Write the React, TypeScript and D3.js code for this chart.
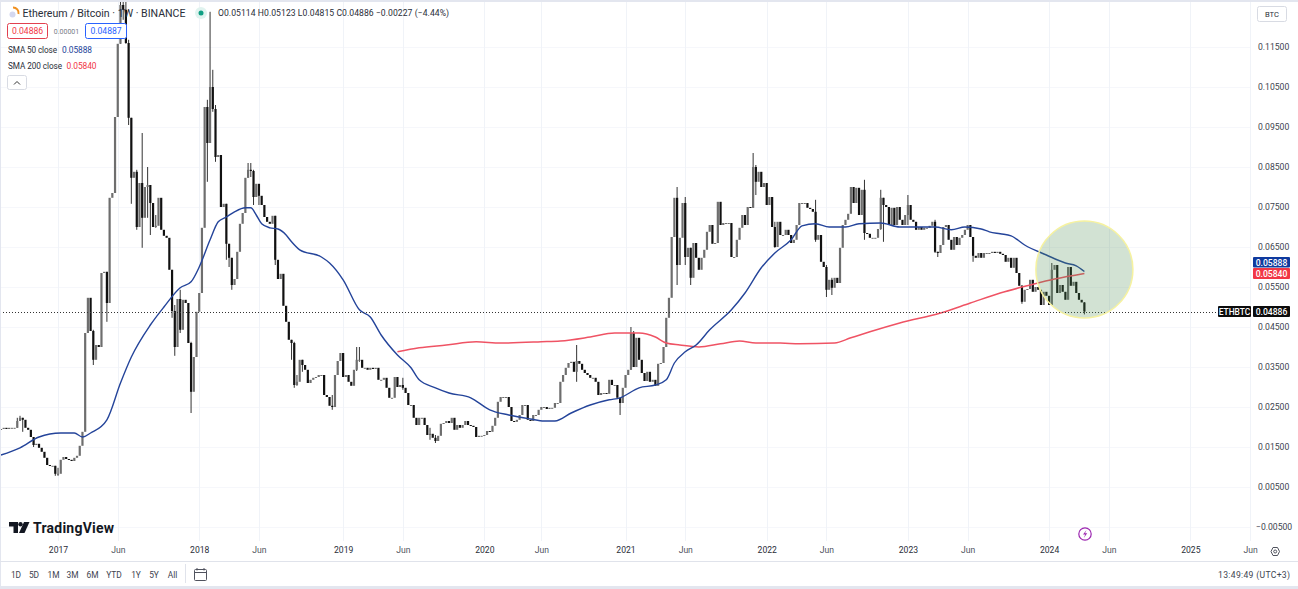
import React, { useEffect, useRef } from "react";
import * as d3 from "d3";

// weekly closes, first bar is Aug 2016
const closes = [
  0.0195, 0.0198, 0.0195, 0.0198, 0.0198, 0.0198, 0.0215, 0.0223, 0.0218, 0.0198,
  0.0193, 0.0175, 0.0155, 0.0158, 0.0148, 0.0138, 0.0123, 0.0105, 0.0103, 0.0103,
  0.0083, 0.0083, 0.0118, 0.0125, 0.012, 0.0118, 0.0115, 0.0123, 0.0128, 0.0153,
  0.0188, 0.0435, 0.0523, 0.044, 0.0368, 0.0405, 0.04, 0.0585, 0.0588, 0.051,
  0.0773, 0.0785, 0.0975, 0.1158, 0.1255, 0.1243, 0.116, 0.0973, 0.0823, 0.0838,
  0.07, 0.081, 0.0723, 0.08, 0.0805, 0.076, 0.07, 0.0703, 0.0773, 0.0693,
  0.0678, 0.0673, 0.0593, 0.049, 0.04, 0.052, 0.0443, 0.0518, 0.051, 0.041,
  0.0288, 0.0375, 0.0488, 0.0535, 0.0698, 0.1, 0.091, 0.105, 0.0995, 0.0875,
  0.088, 0.075, 0.0758, 0.0658, 0.0623, 0.0555, 0.057, 0.0638, 0.0708, 0.0735,
  0.0823, 0.0843, 0.084, 0.0775, 0.0808, 0.0778, 0.0755, 0.0725, 0.0713, 0.0708,
  0.0728, 0.0618, 0.057, 0.0583, 0.0503, 0.0463, 0.0418, 0.041, 0.0305, 0.0313,
  0.0368, 0.0355, 0.0343, 0.031, 0.0318, 0.0323, 0.0325, 0.033, 0.033, 0.028,
  0.0275, 0.0253, 0.025, 0.033, 0.0365, 0.0385, 0.0325, 0.033, 0.0313, 0.0303,
  0.0343, 0.0368, 0.0368, 0.0348, 0.0348, 0.0343, 0.0348, 0.0345, 0.0348, 0.0318,
  0.0318, 0.0323, 0.0298, 0.0273, 0.0273, 0.0325, 0.03, 0.0305, 0.0298, 0.0285,
  0.0255, 0.0255, 0.0223, 0.0205, 0.0223, 0.0223, 0.0205, 0.018, 0.0183, 0.0173,
  0.0165, 0.0178, 0.0208, 0.021, 0.0215, 0.021, 0.0223, 0.0193, 0.0205, 0.0198,
  0.0205, 0.0215, 0.0205, 0.0203, 0.02, 0.0175, 0.0178, 0.0178, 0.018, 0.019,
  0.0188, 0.0203, 0.0223, 0.0263, 0.0275, 0.0275, 0.0275, 0.025, 0.0215, 0.0213,
  0.0218, 0.023, 0.0255, 0.0255, 0.0218, 0.0215, 0.023, 0.023, 0.0243, 0.025,
  0.025, 0.0245, 0.0248, 0.0248, 0.026, 0.026, 0.0313, 0.033, 0.0348, 0.036,
  0.0363, 0.0338, 0.0365, 0.0358, 0.0343, 0.0335, 0.033, 0.0323, 0.0323, 0.0313,
  0.028, 0.0285, 0.0285, 0.0283, 0.0318, 0.0305, 0.0305, 0.0273, 0.026, 0.0298,
  0.033, 0.0343, 0.0435, 0.035, 0.0423, 0.0368, 0.0335, 0.0315, 0.0338, 0.0313,
  0.0318, 0.0303, 0.0358, 0.036, 0.04, 0.0473, 0.0523, 0.0675, 0.0773, 0.0605,
  0.0673, 0.076, 0.0625, 0.0648, 0.0573, 0.066, 0.0623, 0.0593, 0.0623, 0.0643,
  0.0688, 0.0705, 0.0658, 0.066, 0.0763, 0.0705, 0.071, 0.071, 0.071, 0.0625,
  0.0625, 0.0668, 0.0698, 0.073, 0.0705, 0.075, 0.0748, 0.085, 0.0813, 0.0838,
  0.08, 0.081, 0.0755, 0.0775, 0.07, 0.065, 0.0713, 0.068, 0.068, 0.0693,
  0.068, 0.066, 0.0668, 0.0705, 0.076, 0.076, 0.076, 0.0748, 0.0745, 0.0738,
  0.0668, 0.068, 0.0613, 0.06, 0.0543, 0.0568, 0.0548, 0.0573, 0.056, 0.0648,
  0.0705, 0.0718, 0.0733, 0.08, 0.076, 0.0798, 0.073, 0.0793, 0.0685, 0.0683,
  0.0673, 0.0673, 0.0673, 0.0695, 0.0773, 0.0755, 0.075, 0.0705, 0.0748, 0.0705,
  0.075, 0.0718, 0.0705, 0.073, 0.0755, 0.0718, 0.0713, 0.0693, 0.07, 0.0693,
  0.0698, 0.0698, 0.0703, 0.0713, 0.0638, 0.0635, 0.0655, 0.07, 0.0705, 0.0668,
  0.0643, 0.0675, 0.0655, 0.0673, 0.068, 0.0693, 0.0705, 0.0675, 0.0628, 0.0623,
  0.0635, 0.0623, 0.0635, 0.0635, 0.0635, 0.0638, 0.0635, 0.0638, 0.0633, 0.063,
  0.0613, 0.0623, 0.0598, 0.0623, 0.0585, 0.0553, 0.0513, 0.0543, 0.0545, 0.0568,
  0.0538, 0.055, 0.0543, 0.0505, 0.0538, 0.0528, 0.0505, 0.0593, 0.0605, 0.0535,
  0.0555, 0.0538, 0.0518, 0.06, 0.0553, 0.0563, 0.0535, 0.0518, 0.05114, 0.04886,
];

// only the bars whose wick shows clearly past the body
const wickWeeks = [6, 7, 8, 12, 20, 21, 34, 39, 44, 45, 46, 47, 48, 50, 52, 54, 55, 57, 63, 64, 66, 70, 76, 77, 78, 79, 83, 84, 85, 91, 92, 93, 95, 101, 107, 108, 109, 111, 122, 131, 132, 148, 158, 160, 212, 228, 232, 233, 249, 252, 254, 277, 278, 285, 300, 304, 306, 318, 324, 325, 334, 344, 345, 358, 376, 387, 399];
const wickHighs = [0.0223, 0.0228, 0.0223, 0.0175, 0.0103, 0.0098, 0.0443, 0.0588, 0.1343, 0.1331, 0.1263, 0.1168, 0.0973, 0.0843, 0.0935, 0.085, 0.0805, 0.073, 0.0593, 0.0505, 0.0543, 0.0413, 0.1018, 0.1238, 0.1093, 0.1005, 0.0758, 0.0658, 0.0623, 0.086, 0.086, 0.0843, 0.0805, 0.0728, 0.0418, 0.0413, 0.033, 0.0368, 0.028, 0.04, 0.04, 0.0323, 0.0198, 0.018, 0.0405, 0.0273, 0.045, 0.044, 0.08, 0.0775, 0.0648, 0.0885, 0.0855, 0.0713, 0.0768, 0.0605, 0.0573, 0.0818, 0.0793, 0.0773, 0.078, 0.0718, 0.0638, 0.063, 0.0555, 0.061, 0.05123];
const wickLows = [0.0198, 0.0215, 0.0188, 0.015, 0.0078, 0.0078, 0.0355, 0.0463, 0.1158, 0.1218, 0.1158, 0.0955, 0.0758, 0.0693, 0.0648, 0.0723, 0.068, 0.0698, 0.0473, 0.0378, 0.0435, 0.0235, 0.0813, 0.091, 0.0988, 0.0863, 0.0618, 0.06, 0.0543, 0.0823, 0.0825, 0.0755, 0.0755, 0.0605, 0.0368, 0.0298, 0.0303, 0.0338, 0.0243, 0.034, 0.0363, 0.0293, 0.0168, 0.016, 0.0313, 0.023, 0.0343, 0.035, 0.0555, 0.0605, 0.0555, 0.0748, 0.078, 0.0648, 0.0663, 0.0525, 0.053, 0.0668, 0.0693, 0.0663, 0.0705, 0.0635, 0.0625, 0.0613, 0.0508, 0.0505, 0.04815];

const sma50Weeks = [0, 7, 14, 22, 27, 30, 33, 39, 44, 48, 55, 60, 66, 70, 73, 77, 80, 83, 86, 90, 92, 94, 96, 99, 102, 105, 107, 110, 118, 121, 126, 132, 136, 140, 146, 151, 154, 160, 165, 173, 180, 187, 195, 200, 204, 210, 217, 224, 228, 235, 241, 245, 248, 252, 256, 261, 269, 274, 280, 285, 291, 295, 300, 305, 311, 316, 324, 331, 338, 344, 350, 355, 361, 364, 368, 372, 377, 385, 392, 396, 399];
const sma50Values = [0.013, 0.0148, 0.0175, 0.0185, 0.0185, 0.0175, 0.0185, 0.0218, 0.031, 0.0375, 0.0455, 0.05, 0.0548, 0.0563, 0.06, 0.0668, 0.0713, 0.0725, 0.0738, 0.0748, 0.0748, 0.073, 0.0708, 0.0698, 0.0695, 0.068, 0.0663, 0.0643, 0.0625, 0.061, 0.0568, 0.0493, 0.0475, 0.043, 0.038, 0.0348, 0.0318, 0.0298, 0.0285, 0.0273, 0.0243, 0.023, 0.022, 0.0215, 0.0215, 0.0235, 0.0255, 0.0268, 0.0273, 0.0298, 0.0305, 0.0318, 0.036, 0.0388, 0.0405, 0.0443, 0.0493, 0.0535, 0.0598, 0.0635, 0.0668, 0.0703, 0.0708, 0.07, 0.07, 0.0708, 0.071, 0.07, 0.07, 0.07, 0.0693, 0.07, 0.0695, 0.0688, 0.0683, 0.0678, 0.0655, 0.063, 0.061, 0.0603, 0.05888];

const sma200Weeks = [146, 154, 164, 175, 184, 199, 206, 217, 226, 235, 241, 245, 250, 257, 265, 272, 278, 287, 294, 307, 313, 320, 331, 346, 357, 368, 379, 388, 399];
const sma200Values = [0.0388, 0.0398, 0.0405, 0.0413, 0.041, 0.0413, 0.0415, 0.0425, 0.0435, 0.0435, 0.0425, 0.041, 0.0405, 0.04, 0.0408, 0.0415, 0.041, 0.041, 0.0408, 0.041, 0.0423, 0.0438, 0.046, 0.0485, 0.051, 0.0535, 0.0555, 0.057, 0.0584];

const priceTicks = [-0.005, 0.005, 0.015, 0.025, 0.035, 0.045, 0.055, 0.065, 0.075, 0.085, 0.095, 0.105, 0.115];
const timeWeeks = [21, 43, 73, 95, 126, 148, 178, 199, 230, 252, 282, 304, 334, 356, 386, 408, 438, 460];
const timeLabels = ["2017", "Jun", "2018", "Jun", "2019", "Jun", "2020", "Jun", "2021", "Jun", "2022", "Jun", "2023", "Jun", "2024", "Jun", "2025", "Jun"];
const rangeButtons = ["1D", "5D", "1M", "3M", "6M", "YTD", "1Y", "5Y", "All"];
const rangeButtonX = [16, 34, 53.5, 72.5, 92.5, 114, 136, 154, 172.5];

const lastClose = 0.04886;
const sma50Last = 0.05888;
const sma200Last = 0.0584;

const FONT = "Roboto, 'Noto Sans', sans-serif";
const INK = "#131722";
const BLUE = "#24449a";
const RED = "#f23645";

export default function App() {
  const plotRef = useRef<SVGGElement>(null);
  const axisRef = useRef<SVGGElement>(null);

  useEffect(() => {
    const x = d3.scaleLinear().domain([0, 399]).range([1, 1084.4]);
    const y = d3.scaleLinear().domain([-0.005, 0.115]).range([527, 47]);

    const plot = d3.select(plotRef.current);
    const axes = d3.select(axisRef.current);
    plot.selectAll("*").remove();
    axes.selectAll("*").remove();

    // grid
    plot.append("g").selectAll("line").data(priceTicks).join("line")
      .attr("x1", 0).attr("x2", 1250)
      .attr("y1", (d) => y(d) + 0.5).attr("y2", (d) => y(d) + 0.5)
      .attr("stroke", "#f6f7fb");
    plot.append("g").selectAll("line").data(timeWeeks).join("line")
      .attr("x1", (d) => Math.round(x(d)) + 0.5).attr("x2", (d) => Math.round(x(d)) + 0.5)
      .attr("y1", 0).attr("y2", 541)
      .attr("stroke", "#f0f3f8");

    // candles, open is the previous close
    const candles = closes.map((close, i) => ({ i, close, open: i ? closes[i - 1] : close }));
    const g = plot.append("g").attr("clip-path", "url(#plotClip)");

    g.append("g").selectAll("line").data(wickWeeks).join("line")
      .attr("x1", (d) => x(d)).attr("x2", (d) => x(d))
      .attr("y1", (_, n) => y(wickHighs[n])).attr("y2", (_, n) => y(wickLows[n]))
      .attr("stroke", "#333").attr("stroke-width", 1);

    g.append("g").selectAll("rect").data(candles).join("rect")
      .attr("x", (d) => x(d.i) - 1.1)
      .attr("width", 2.2)
      .attr("y", (d) => y(Math.max(d.open, d.close)))
      .attr("height", (d) => Math.max(1, Math.abs(y(d.open) - y(d.close))))
      .attr("fill", (d) => (d.close >= d.open ? "#6e6e6e" : "#111"));

    // moving averages
    const line = d3.line<number>().curve(d3.curveMonotoneX);
    g.append("path")
      .attr("d", line.x((w) => x(w)).y((_, n) => y(sma200Values[n]))(sma200Weeks))
      .attr("fill", "none").attr("stroke", "#ef5364").attr("stroke-width", 1.5);
    g.append("path")
      .attr("d", line.x((w) => x(w)).y((_, n) => y(sma50Values[n]))(sma50Weeks))
      .attr("fill", "none").attr("stroke", BLUE).attr("stroke-width", 1.4);

    // last price line
    plot.append("line")
      .attr("x1", 0).attr("x2", 1218)
      .attr("y1", Math.round(y(lastClose)) + 0.5).attr("y2", Math.round(y(lastClose)) + 0.5)
      .attr("stroke", "#333").attr("stroke-dasharray", "1 2");

    // highlight circle
    plot.append("circle")
      .attr("cx", x(399)).attr("cy", 269.5).attr("r", 48.5)
      .attr("fill", "#4c8a50").attr("fill-opacity", 0.25)
      .attr("stroke", "#f6f2a0").attr("stroke-width", 1.5);

    // axes
    const yAxis = d3.axisRight(y).tickValues(priceTicks).tickSize(0).tickPadding(0)
      .tickFormat(d3.format(".5f") as any);
    const ya = axes.append("g").attr("transform", "translate(1258,0)").call(yAxis);
    ya.select(".domain").remove();
    ya.selectAll("text").attr("font-family", FONT).attr("font-size", 8.6).attr("fill", "#40444f");
    ya.selectAll("text").filter((d: any) => d < 0).attr("dx", -2);

    const xAxis = d3.axisBottom(x).tickValues(timeWeeks).tickSize(0).tickPadding(0)
      .tickFormat((_, n) => timeLabels[n]);
    const xa = axes.append("g").attr("transform", "translate(0,547)").call(xAxis);
    xa.select(".domain").remove();
    xa.selectAll("text")
      .attr("font-family", FONT).attr("font-size", 8.6)
      .attr("fill", (_: any, n: number) => (n % 2 ? "#50535e" : "#2a2e39"));
  }, []);

  const labelY = d3.scaleLinear().domain([-0.005, 0.115]).range([527, 47]);

  return (
    <div style={{ position: "absolute", left: 0, top: 0, width: 1298, height: 589, overflow: "hidden" }}>
      <svg width={1298} height={589} style={{ display: "block", background: "#fff" }} fontFamily={FONT}>
        <defs>
          <clipPath id="plotClip">
            <rect x={0} y={0} width={1250} height={541} />
          </clipPath>
        </defs>

        <g ref={plotRef} />
        <g ref={axisRef} />

        {/* frame */}
        <rect x={0} y={0} width={1298} height={2} fill="#e3e6ef" />
        <rect x={0} y={0} width={1} height={589} fill="#e3e6ef" />
        <rect x={0} y={586} width={1298} height={3} fill="#e3e6ef" />
        <line x1={0} x2={1298} y1={561.5} y2={561.5} stroke="#e0e3eb" />

        {/* symbol legend */}
        <path d="M13 7.5 A5.5 5.5 0 0 1 18.5 14" fill="none" stroke="#f09020" strokeWidth={2} />
        <circle cx={12.5} cy={14.5} r={3} fill="#d4d8f0" />
        <text x={22.5} y={17} fontSize={10.6} fill="#2a2e39" textLength={163}>Ethereum / Bitcoin · 1W · BINANCE</text>
        <circle cx={201} cy={13} r={6} fill="#e0f3ef" />
        <circle cx={201} cy={13} r={2.5} fill="#0f9f83" />
        <text x={218} y={16} fontSize={8.6} fill="#2a2e39" textLength={231}>O0.05114 H0.05123 L0.04815 C0.04886 −0.00227 (−4.44%)</text>

        <rect x={7.5} y={23.5} width={40} height={15} rx={2} fill="#fff" stroke="#e2404f" />
        <text x={27.5} y={34} fontSize={8.6} fill={RED} textAnchor="middle">0.04886</text>
        <text x={66.5} y={34} fontSize={7} fill="#787b86" textAnchor="middle">0.00001</text>
        <rect x={85.5} y={23.5} width={41} height={15} rx={2} fill="#fff" stroke="#2962ff" />
        <text x={106} y={34} fontSize={8.6} fill="#2962ff" textAnchor="middle">0.04887</text>

        <text x={8} y={53} fontSize={8.2} fill="#2a2e39" textLength={49}>SMA 50 close</text>
        <text x={62} y={53} fontSize={8.4} fill={BLUE} textLength={30}>0.05888</text>
        <text x={8} y={69} fontSize={8.2} fill="#2a2e39" textLength={54}>SMA 200 close</text>
        <text x={66.5} y={69} fontSize={8.4} fill={RED} textLength={30}>0.05840</text>
        <rect x={7.5} y={75.5} width={19} height={14} rx={2} fill="#fff" stroke="#d8dbe3" />
        <path d="M14 84.5 L17 81.5 L20 84.5" fill="none" stroke="#333" strokeWidth={1} />

        {/* currency button */}
        <rect x={1257.5} y={6.5} width={29} height={15} rx={2} fill="#fff" stroke="#d8dbe3" />
        <text x={1272} y={17} fontSize={7.6} fill="#2a2e39" textAnchor="middle">BTC</text>

        {/* price labels */}
        <rect x={1253} y={257} width={37} height={10.5} rx={1} fill="#0f3a9e" />
        <text x={1271.5} y={265.5} fontSize={8.6} fontWeight={500} fill="#fff" textAnchor="middle">{d3.format(".5f")(sma50Last)}</text>
        <rect x={1253} y={268} width={37} height={11} rx={1} fill={RED} />
        <text x={1271.5} y={276.8} fontSize={8.6} fontWeight={500} fill="#fff" textAnchor="middle">{d3.format(".5f")(sma200Last)}</text>
        <rect x={1218} y={306} width={33} height={11} rx={1} fill="#0c0c0c" />
        <text x={1234.5} y={314.8} fontSize={8.4} fontWeight={500} fill="#fff" textAnchor="middle">ETHBTC</text>
        <rect x={1253} y={Math.round(labelY(lastClose)) - 6} width={37} height={11} rx={1} fill="#0c0c0c" />
        <text x={1271.5} y={314.8} fontSize={8.6} fontWeight={500} fill="#fff" textAnchor="middle">{d3.format(".5f")(lastClose)}</text>

        {/* TradingView mark */}
        <path d="M9 522 H18 V533 H13.5 V526.5 H9 Z" fill={INK} />
        <circle cx={20.5} cy={524.3} r={2.2} fill={INK} />
        <path d="M24 522 H29.5 L24.5 533 H19 Z" fill={INK} />
        <text x={33} y={533} fontSize={14} fontWeight={700} fill={INK} textLength={81}>TradingView</text>

        {/* events badge */}
        <circle cx={1085} cy={534} r={6.2} fill="#fff" stroke="#9c27b0" strokeWidth={1.2} />
        <path d="M1086.5 530 L1083 534.6 H1085.2 L1083.8 538 L1087.2 533.3 H1085 Z" fill="#9c27b0" />

        {/* settings */}
        <path d="M1271 551.5 L1273 547.5 H1277.5 L1279.5 551.5 L1277.5 555.5 H1273 Z" fill="none" stroke="#50535e" />
        <circle cx={1275.2} cy={551.5} r={1.5} fill="none" stroke="#50535e" />

        {/* range bar */}
        {rangeButtons.map((b, i) => (
          <text key={b} x={rangeButtonX[i]} y={578} fontSize={8.4} fill="#40444f" textAnchor="middle">{b}</text>
        ))}
        <line x1={185.5} x2={185.5} y1={564} y2={583} stroke="#e0e3eb" />
        <rect x={194.5} y={569.5} width={12} height={11} rx={1} fill="none" stroke="#50535e" />
        <line x1={194.5} x2={206.5} y1={572.5} y2={572.5} stroke="#50535e" />
        <path d="M197 568 V570.5 M204 568 V570.5" stroke="#50535e" />
        <text x={1290} y={578} fontSize={8.6} fill="#40444f" textAnchor="end" textLength={72}>13:49:49 (UTC+3)</text>
      </svg>
    </div>
  );
}
